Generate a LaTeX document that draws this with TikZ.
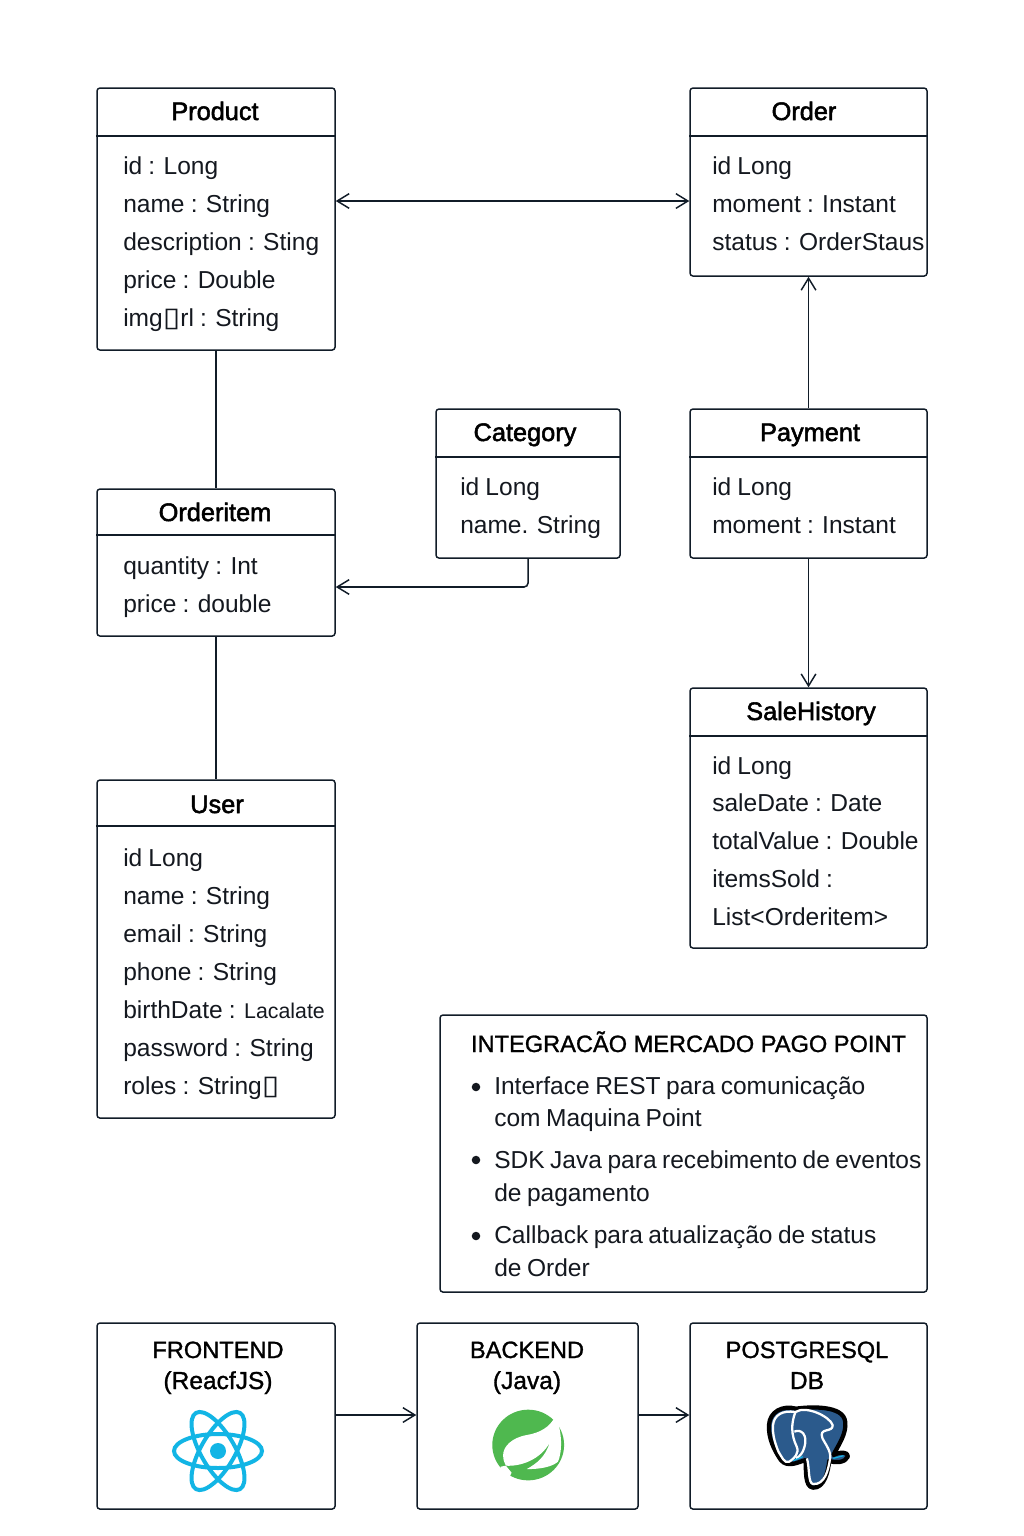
\documentclass[tikz,border=0pt]{standalone}
\usepackage{fontspec}
\usepackage{graphicx}
\usetikzlibrary{arrows.meta}
\setmainfont{Liberation Sans}
\newfontfamily\attrfont[WordSpace=0.6]{Liberation Sans}
\newfontfamily\listfont[WordSpace=0.9]{Liberation Sans}
\newfontfamily\headfont[FakeBold=2]{Liberation Sans}
\newfontfamily\headmid[FakeBold=1.2]{Liberation Sans}
\newfontfamily\symfont{DejaVu Sans}
\definecolor{ink}{HTML}{111C28}
\definecolor{txt}{HTML}{14181F}
\definecolor{reactc}{HTML}{12B5E5}
\definecolor{springc}{HTML}{4FB84F}
\definecolor{pgblue}{HTML}{2B5A8C}
\newcommand{\bxg}{\scalebox{1.3}[1.1]{\symfont\char"25AF}}
\newcommand{\smalltxt}[1]{{\fontsize{16}{16}\selectfont #1}}
\tikzset{
  umlbox/.style={draw=ink,line width=1.1pt,rounded corners=2.2pt,fill=white,inner sep=0pt,anchor=north west},
  attr/.style={anchor=base west,inner sep=0pt,text=txt,font=\fontsize{18.4}{20}\selectfont\attrfont},
  item/.style={anchor=base west,inner sep=0pt,text=txt,font=\fontsize{18.4}{20}\selectfont\listfont},
  ttl/.style={anchor=base,inner sep=0pt,text=black,font=\fontsize{19}{20}\selectfont\headfont},
  hdl/.style={anchor=base,inner sep=0pt,text=black,font=\fontsize{17.7}{20}\selectfont\headmid},
  hds/.style={anchor=base,inner sep=0pt,text=black,font=\fontsize{18.4}{20}\selectfont\headmid},
  bulletdot/.style={circle,fill=txt,inner sep=0pt,minimum size=6.4pt},
  div/.style={draw=ink,line width=.8pt},
  conn/.style={draw=ink,line width=1.15pt},
  arr/.style={conn,-{Straight Barb[length=9pt,width=11pt,line width=1.1pt]}},
  darr/.style={conn,{Straight Barb[length=9pt,width=11pt,line width=1.1pt]}-{Straight Barb[length=9pt,width=11pt,line width=1.1pt]}}
}
% name, x1, y1, x2, y2 (pixels)
\newcommand{\pbox}[5]{\node[umlbox,minimum width={(#4-#2)*.75pt},minimum height={(#5-#3)*.75pt}] (#1) at ({#2-.7},{#3-.7}) {};}
% name, title x, title baseline, divider y, attr x, first baseline, step, rows
\newcommand{\uml}[8]{%
  \node[ttl] (#1-t) at (#2,#3) {#1};
  \draw[div] (#1.west |- 0,#4) -- (#1.east |- 0,#4);
  \foreach \r [count=\i] in {#8} {\node[attr] (#1-\i) at (#5,{#6+(\i-1)*#7}) {\r};}
}
\begin{document}
\begin{tikzpicture}[x=.75pt,y=-.75pt]
\useasboundingbox[fill=white] (0,0) rectangle (1024,1536);

\pbox{Product}{97}{88}{335}{350}
\uml{Product}{215}{120}{136}{123}{174}{38}{id : Long,name : String,description : Sting,price : Double,img\bxg rl : String}
\pbox{Order}{690}{88}{927}{276}
\uml{Order}{804}{120}{136}{712}{174}{38}{id Long,moment : Instant,status : OrderStaus}
\pbox{Category}{436}{409}{620}{558}
\uml{Category}{525}{441}{457}{460}{495}{38}{id Long,name. String}
\pbox{Payment}{690}{409}{927}{558}
\uml{Payment}{810}{441}{457}{712}{495}{38}{id Long,moment : Instant}
\pbox{Orderitem}{97}{489}{335}{636}
\uml{Orderitem}{215}{521}{535}{123}{574}{38.5}{quantity : Int,price : double}
\pbox{User}{97}{780}{335}{1118}
\uml{User}{217}{813}{826}{123}{866}{38}{id Long,name : String,email : String,phone : String,birthDate : \smalltxt{Lacalate},password : String,roles : String\bxg}
\pbox{SaleHistory}{690}{688}{927}{948}
\uml{SaleHistory}{811}{720}{736}{712}{774}{37.75}{id Long,saleDate : Date,totalValue : Double,itemsSold :,List<Orderitem>}

% integration panel
\pbox{panel}{440}{1015}{927}{1292}
\node[hdl] (panel-h) at (688.5,1052) {INTEGRAC\~AO MERCADO PAGO POINT};
\node[item] (p1) at (494,1094) {Interface REST para comunicação};
\node[item] (p2) at (494,1126) {com Maquina Point};
\node[item] (p3) at (494,1168) {SDK Java para recebimento de eventos};
\node[item] (p4) at (494,1201) {de pagamento};
\node[item] (p5) at (494,1243) {Callback para atualização de status};
\node[item] (p6) at (494,1276) {de Order};
\node[bulletdot] (b1) at (476,1087) {};
\node[bulletdot] (b2) at (476,1160) {};
\node[bulletdot] (b3) at (476,1236) {};

% stack boxes
\pbox{front}{97}{1323}{335}{1509}
\pbox{back}{417}{1323}{638}{1509}
\pbox{pg}{690}{1323}{927}{1509}
\node[hdl] (front-a) at (218,1358) {FRONTEND};
\node[hds] (front-b) at (218,1389) {(ReacfJS)};
\node[hdl] (back-a) at (527,1358) {BACKEND};
\node[hds] (back-b) at (527,1389) {(Java)};
\node[hdl] (pg-a) at (807,1358) {POSTGRESQL};
\node[hds] (pg-b) at (807,1389) {DB};

% connectors
\coordinate (lnk) at (0,201);
\coordinate (bend) at (0,587);
\coordinate (stack) at (0,1415);
\draw[darr] (Product.east |- lnk) -- (Order.west |- lnk);
\draw[arr] (Payment.north) -- (Order.south);
\draw[arr] (Payment.south) -- (SaleHistory.north);
\draw[conn] (Product.south) -- (Orderitem.north);
\draw[conn] (Orderitem.south) -- (User.north);
\draw[arr,rounded corners=3pt] (Category.south) -- (Category.south |- bend) -- (Orderitem.east |- bend);
\draw[arr] (front.east |- stack) -- (back.west |- stack);
\draw[arr] (back.east |- stack) -- (pg.west |- stack);

% React logo
\begin{scope}[shift={(218,1451)},draw=reactc,line width=3pt]
  \draw (0,0) ellipse [x radius=44,y radius=17];
  \draw[rotate=60] (0,0) ellipse [x radius=44,y radius=17];
  \draw[rotate=120] (0,0) ellipse [x radius=44,y radius=17];
  \fill[reactc] (0,0) circle (8);
\end{scope}

% Spring logo (coordinates in zoomed crop px)
\begin{scope}[shift={(410,1310)},x=.254pt,y=-.25pt]
  \fill[springc] (349,405) circle (106);
  \fill[white] (430,318) .. controls (412,352) and (385,368) .. (345,375)
     .. controls (300,383) and (275,410) .. (275,435) .. controls (275,448) and (278,458) .. (283,467)
     .. controls (325,470) and (385,450) .. (413,397) .. controls (400,440) and (375,460) .. (345,477)
     .. controls (385,478) and (420,470) .. (437,455) .. controls (450,425) and (450,365) .. (430,318) -- cycle;
  \fill[white] (268,470) -- (283,467) -- (300,488) -- (292,505) -- (262,490) -- cycle;
\end{scope}

% PostgreSQL logo (coordinates in zoomed crop px)
\begin{scope}[shift={(410,1310)},x=.254pt,y=-.25pt]
  \path[draw=black,line width=3.2pt,fill=pgblue,line join=round]
     (1060,345) .. controls (1062,305) and (1100,285) .. (1140,296)
     .. controls (1180,290) and (1280,285) .. (1285,335)
     .. controls (1290,370) and (1265,405) .. (1250,435)
     .. controls (1270,425) and (1295,425) .. (1293,440)
     .. controls (1285,458) and (1255,460) .. (1238,452)
     .. controls (1235,480) and (1225,535) .. (1190,533)
     .. controls (1165,530) and (1170,480) .. (1168,450)
     .. controls (1150,455) and (1115,475) .. (1095,450)
     .. controls (1075,420) and (1058,385) .. (1060,345) -- cycle;
  \draw[white,line width=1.7pt,line join=round]
     (1072,345) .. controls (1075,315) and (1100,300) .. (1138,306)
     .. controls (1125,340) and (1125,375) .. (1142,410)
     .. controls (1150,430) and (1135,445) .. (1120,455)
     .. controls (1105,462) and (1098,440) .. (1088,425)
     .. controls (1078,400) and (1070,375) .. (1072,345);
  \draw[white,line width=1.7pt,line join=round]
     (1138,306) .. controls (1170,285) and (1240,320) .. (1248,345)
     .. controls (1250,370) and (1205,350) .. (1218,385)
     .. controls (1228,405) and (1245,425) .. (1240,448)
     .. controls (1235,480) and (1225,525) .. (1190,522)
     .. controls (1175,520) and (1180,470) .. (1172,445);
  \draw[white,line width=1.7pt]
     (1135,365) .. controls (1155,355) and (1175,375) .. (1165,410)
     .. controls (1160,430) and (1150,440) .. (1140,445);
  \draw[reactc,line width=.9pt] (1132,452) -- (1160,440);
  \draw[reactc,line width=.9pt] (1250,445) -- (1280,437);
\end{scope}
\end{tikzpicture}
\end{document}
